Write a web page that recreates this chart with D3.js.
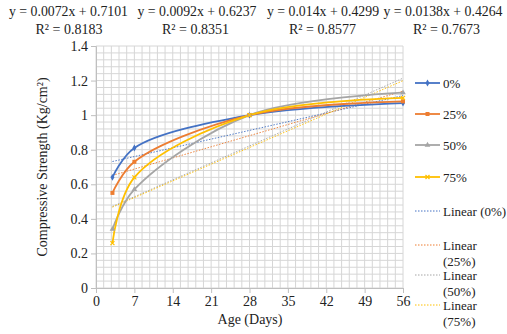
<!DOCTYPE html>
<html><head><meta charset="utf-8">
<script src="https://cdn.jsdelivr.net/npm/d3@7"></script>
<style>body{margin:0;background:#fff}svg{display:block}text{font-family:"Liberation Serif","Times New Roman",serif;fill:#222}</style>
</head><body><svg id="c" width="507" height="334"></svg>
<script>
const days = [3, 7, 28, 56];
const seriesNames = ["0%", "25%", "50%", "75%"];
const s0 = [0.64, 0.81, 1.0, 1.07];
const s25 = [0.55, 0.73, 1.0, 1.08];
const s50 = [0.34, 0.57, 1.0, 1.13];
const s75 = [0.26, 0.64, 1.0, 1.10];
const slopes = [0.0072, 0.0092, 0.014, 0.0138];
const intercepts = [0.7101, 0.6237, 0.4299, 0.4264];
const eqLabels = ["y = 0.0072x + 0.7101", "y = 0.0092x + 0.6237", "y = 0.014x + 0.4299", "y = 0.0138x + 0.4264"];
const r2Labels = ["R² = 0.8183", "R² = 0.8351", "R² = 0.8577", "R² = 0.7673"];
const xTicks = [0, 7, 14, 21, 28, 35, 42, 49, 56];
const yTicks = [0, 0.2, 0.4, 0.6, 0.8, 1, 1.2, 1.4];
const legendLabels = ["0%", "25%", "50%", "75%", "Linear (0%)", "Linear|(25%)", "Linear|(50%)", "Linear|(75%)"];

const colors = ["#4472C4", "#ED7D31", "#A5A5A5", "#FFC000"];
const values = [s0, s25, s50, s75];
const svg = d3.select("#c");
const x = d3.scaleLinear().domain([0, 56]).range([96, 403]);
const y = d3.scaleLinear().domain([0, 1.4]).range([288, 46]);

// grid
const g = svg.append("g");
d3.range(0, 56.001, 1.4).forEach(v => g.append("line").attr("x1", x(v)).attr("x2", x(v)).attr("y1", y(0)).attr("y2", y(1.4)).attr("stroke", "#d6d6d6").attr("stroke-width", 1));
d3.range(0, 1.4001, 0.04).forEach(v => g.append("line").attr("x1", x(0)).attr("x2", x(56)).attr("y1", y(v)).attr("y2", y(v)).attr("stroke", "#d6d6d6").attr("stroke-width", 1));

// axes
const xa = svg.append("g").attr("transform", `translate(0,${y(0)})`).call(d3.axisBottom(x).tickValues(xTicks).tickSize(5).tickPadding(3));
const ya = svg.append("g").attr("transform", `translate(${x(0)},0)`).call(d3.axisLeft(y).tickValues(yTicks).tickSize(5).tickPadding(3).tickFormat(d => d3.format("")(+d.toFixed(1))));
[xa, ya].forEach(a => {
  a.selectAll("path,line").attr("stroke", "#bfbfbf");
  a.selectAll("text").style("font-family", '"Liberation Serif",serif').style("font-size", "14px").attr("fill", "#222");
});

// trendlines
slopes.forEach((m, i) => {
  svg.append("line").attr("x1", x(3)).attr("x2", x(56)).attr("y1", y(m * 3 + intercepts[i])).attr("y2", y(m * 56 + intercepts[i]))
    .attr("stroke", colors[i]).attr("stroke-width", 1).attr("stroke-dasharray", "1.5,1.5").attr("opacity", 0.9);
});

// series
const line = d3.line().x((d, j) => x(days[j])).y(d => y(d)).curve(d3.curveCatmullRom.alpha(0.5));
const symbols = [d3.symbolDiamond, d3.symbolSquare, d3.symbolTriangle, d3.symbolCross];
function marker(sel, i, cx, cy) {
  if (i === 3) {
    sel.append("path").attr("d", `M${cx-2},${cy-2}L${cx+2},${cy+2}M${cx-2},${cy+2}L${cx+2},${cy-2}`).attr("stroke", colors[i]).attr("stroke-width", 1.2);
  } else {
    sel.append("path").attr("d", d3.symbol().type(symbols[i]).size(i === 1 ? 16 : 14)()).attr("transform", `translate(${cx},${cy})`).attr("fill", colors[i]);
  }
}
values.forEach((vals, i) => {
  svg.append("path").datum(vals).attr("d", line).attr("fill", "none").attr("stroke", colors[i]).attr("stroke-width", 1.8);
});
values.forEach((vals, i) => {
  vals.forEach((v, j) => marker(svg, i, x(days[j]), y(v)));
});

// equations
const eqX = [68.5, 197, 323, 443];
const r2X = [69, 195.5, 322.5, 446.5];
eqLabels.forEach((t, i) => {
  svg.append("text").attr("x", eqX[i]).attr("y", 16).attr("text-anchor", "middle").style("font-size", "13.8px").text(t);
  svg.append("text").attr("x", r2X[i]).attr("y", 34).attr("text-anchor", "middle").style("font-size", "14px").text(r2Labels[i]);
});

// axis titles
svg.append("text").attr("x", 250).attr("y", 324).attr("text-anchor", "middle").style("font-size", "14px").text("Age (Days)");
svg.append("text").attr("transform", "translate(47,167) rotate(-90)").attr("text-anchor", "middle").style("font-size", "14px").text("Compressive Strength (Kg/cm²)");

// legend
const legY = [83, 114, 145, 177, 211, 245, 275, 305];
legendLabels.forEach((lab, i) => {
  const ly = legY[i];
  const ci = i % 4;
  const gl = svg.append("g");
  if (i < 4) {
    gl.append("line").attr("x1", 415).attr("x2", 440).attr("y1", ly).attr("y2", ly).attr("stroke", colors[ci]).attr("stroke-width", 1.8);
    marker(gl, ci, 427.5, ly);
  } else {
    gl.append("line").attr("x1", 415).attr("x2", 440).attr("y1", ly).attr("y2", ly).attr("stroke", colors[ci]).attr("stroke-width", 1).attr("stroke-dasharray", "1.5,1.5");
  }
  lab.split("|").forEach((part, k) => {
    gl.append("text").attr("x", 443).attr("y", ly + 5 + k * 16).style("font-size", "13px").text(part);
  });
});
</script></body></html>
